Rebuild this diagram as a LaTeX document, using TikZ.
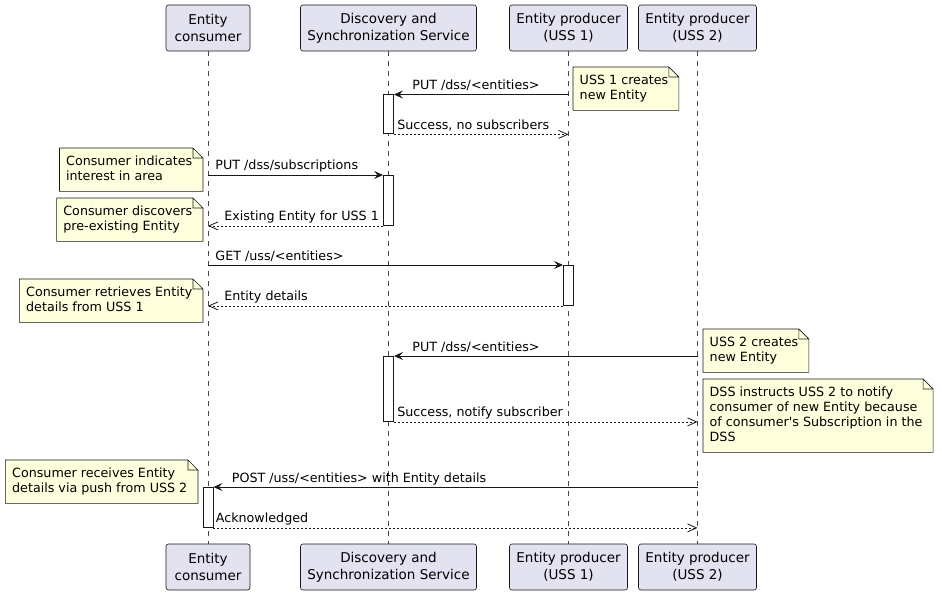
\documentclass[tikz,border=0pt]{standalone}
\usepackage{fontspec}
\setmainfont{DejaVu Sans}
\usetikzlibrary{arrows.meta,positioning,calc}
\definecolor{ink}{HTML}{181818}
\definecolor{partfill}{HTML}{E2E2F0}
\definecolor{notefill}{HTML}{FEFFDD}
\newcommand\msgfont{\fontsize{12.7}{15}\selectfont}
\tikzset{
  part/.style={draw=ink,fill=partfill,rounded corners=2.5pt,align=center,
               minimum height=46pt,inner sep=3pt,line width=0.6pt,font=\fontsize{13.5}{17}\selectfont},
  life/.style={draw=ink!80,line width=0.5pt,dash pattern=on 5pt off 5pt},
  act/.style={draw=ink,fill=white,line width=0.9pt,minimum width=10pt,inner sep=0pt},
  memo/.style={fill=notefill,inner xsep=6.5pt,inner ysep=6.5pt,font=\msgfont},
  memoline/.style={draw=ink,line width=0.6pt},
  call/.style={draw=ink,line width=0.9pt,-{Stealth[length=9pt,width=8pt,inset=3.5pt]}},
  reply/.style={draw=ink,line width=0.8pt,dash pattern=on 2pt off 2pt,
                -{Straight Barb[length=9pt,width=8pt,line width=0.8pt]}},
  lbl/.style={anchor=base west,inner sep=0pt,yshift=5pt,font=\msgfont}
}
% note with folded corner
\newcommand\umlnote[4]{%
  \node[memo,anchor=#2] (#1) at (#3)
    {\begin{tabular}{@{}l@{\hspace{4pt}}}#4\end{tabular}};
  \fill[white] ([xshift=-10pt]#1.north east) -- (#1.north east) -- ([yshift=-10pt]#1.north east) -- cycle;
  \draw[memoline] (#1.north west) -- ([xshift=-10pt]#1.north east) -- ([yshift=-10pt]#1.north east)
    -- (#1.south east) -- (#1.south west) -- cycle
    ([xshift=-10pt]#1.north east) |- ([yshift=-10pt]#1.north east);
}

\begin{document}
\begin{tikzpicture}[x=1pt,y=-1pt]
  \useasboundingbox (0,0) rectangle (942,596);
  % participants and lifelines
  \foreach \id/\x/\w/\txt in {cons/208/84/{Entity\\consumer},
      dss/388.5/176/{Discovery and\\Synchronization Service},
      ussA/568.5/118/{Entity producer\\(USS 1)},
      ussB/697.5/118/{Entity producer\\(USS 2)}} {
    \node[part,minimum width=\w pt] (\id) at (\x,28) {\txt};
    \node[part,minimum width=\w pt] (\id-end) at (\x,567) {\txt};
    \draw[life] (\id) -- (\id-end);
  }
  % activations
  \node[act,minimum height=39pt,anchor=north] (actA) at (388.5,94.5) {};
  \node[act,minimum height=50pt,anchor=north] (actB) at (388.5,175) {};
  \node[act,minimum height=40pt,anchor=north] (actC) at (568.5,265) {};
  \node[act,minimum height=65pt,anchor=north] (actD) at (388.5,356) {};
  \node[act,minimum height=40pt,anchor=north] (actE) at (208,487) {};
  % messages
  \draw[call] (ussA |- actA.north) -- (actA.north east) node[lbl,xshift=18pt]{PUT /dss/<entities>};
  \draw[reply] (actA.south east) node[lbl,xshift=3pt]{Success, no subscribers} -- (ussA |- actA.south);
  \draw[call] (cons |- actB.north) node[lbl,xshift=7pt]{PUT /dss/subscriptions} -- (actB.north west);
  \draw[reply] (actB.south west) -- (cons |- actB.south) node[lbl,xshift=16pt]{Existing Entity for USS 1};
  \draw[call] (cons |- actC.north) node[lbl,xshift=7pt]{GET /uss/<entities>} -- (actC.north west);
  \draw[reply] (actC.south west) -- (cons |- actC.south) node[lbl,xshift=16pt]{Entity details};
  \draw[call] (ussB |- actD.north) -- (actD.north east) node[lbl,xshift=18pt]{PUT /dss/<entities>};
  \draw[reply] (actD.south east) node[lbl,xshift=3pt]{Success, notify subscriber} -- (ussB |- actD.south);
  \draw[call] (ussB |- actE.north) -- (actE.north east) node[lbl,xshift=18pt]{POST /uss/<entities> with Entity details};
  \draw[reply] (actE.south east) node[lbl,xshift=2pt]{Acknowledged} -- (ussB |- actE.south);
  % notes
  \umlnote{nCreateA}{north west}{573,67}{USS 1 creates\\new Entity}
  \umlnote{nInterest}{north east}{203,148}{Consumer indicates\\interest in area}
  \umlnote{nDiscover}{north east}{203,198}{Consumer discovers\\pre-existing Entity}
  \umlnote{nRetrieve}{north east}{203,279}{Consumer retrieves Entity\\details from USS 1}
  \umlnote{nCreateB}{north west}{703,329}{USS 2 creates\\new Entity}
  \umlnote{nInstruct}{north west}{703,379}{DSS instructs USS 2 to notify\\consumer of new Entity because\\of consumer\textquotesingle s Subscription in the\\DSS}
  \umlnote{nPush}{north east}{198,460}{Consumer receives Entity\\details via push from USS 2}
\end{tikzpicture}
\end{document}
